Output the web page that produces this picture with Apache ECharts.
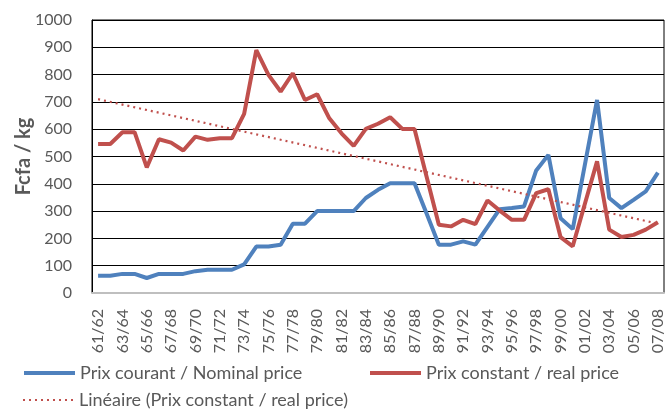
<!DOCTYPE html>
<html>
<head>
<meta charset="utf-8">
<script src="https://cdn.jsdelivr.net/npm/echarts@6/dist/echarts.min.js"></script>
<style>
  html, body { margin: 0; padding: 0; background: #fff; }
  #chart { width: 669px; height: 413px; }
</style>
</head>
<body>
<div id="chart"></div>
<script>
// campagnes 61/62 .. 07/08
var campagnes = ['61/62','62/63','63/64','64/65','65/66','66/67','67/68','68/69','69/70','70/71',
  '71/72','72/73','73/74','74/75','75/76','76/77','77/78','78/79','79/80','80/81',
  '81/82','82/83','83/84','84/85','85/86','86/87','87/88','88/89','89/90','90/91',
  '91/92','92/93','93/94','94/95','95/96','96/97','97/98','98/99','99/00','00/01',
  '01/02','02/03','03/04','04/05','05/06','06/07','07/08'];

// prix courant (Fcfa/kg)
var prixCourant = [63, 63, 70, 70, 55, 70, 70, 70, 80, 85,
  85, 85, 105, 170, 170, 177, 254, 254, 300, 300,
  300, 300, 348, 378, 402, 402, 402, 290, 177, 177,
  189, 177, 242, 307, 311, 317, 449, 506, 274, 234,
  470, 707, 348, 311, 341, 372, 441];

// prix constant (Fcfa/kg)
var prixConstant = [546, 546, 589, 589, 460, 563, 551, 522, 573, 561,
  567, 567, 656, 890, 799, 738, 805, 707, 728, 640,
  585, 539, 601, 620, 644, 601, 601, 425, 250, 244,
  268, 252, 339, 302, 268, 268, 366, 380, 205, 171,
  327, 482, 232, 205, 213, 232, 259];

// tendance lineaire, lue aux deux bouts
var tendanceDebut = 710;
var tendanceFin = 254;

var yTicks = [0, 1000, 100]; // min, max, pas

var BLEU = '#4F81BD', ROUGE = '#C0504D', GRIS = '#595959';
var nomNominal = 'Prix courant / Nominal price';
var nomReel = 'Prix constant / real price';
var nomTendance = 'Linéaire (Prix constant / real price)';

var chart = echarts.init(document.getElementById('chart'));

function legende(nom, left, top, epaisseur) {
  return {
    data: [nom], left: left, top: top,
    itemWidth: 51, itemHeight: 14, itemGap: 0, padding: 0,
    itemStyle: { opacity: 0 },
    lineStyle: { width: epaisseur },
    textStyle: { fontFamily: 'Lato', fontSize: 18, color: GRIS }
  };
}

chart.setOption({
  animation: false,
  textStyle: { fontFamily: 'Lato' },
  grid: {
    left: 92, right: 5, top: 20, bottom: 120,
    show: true, borderColor: '#000', borderWidth: 1
  },
  legend: [
    legende(nomNominal, 22, 364, 4),
    legende(nomReel, 368, 364, 4),
    legende(nomTendance, 22, 391, 2)
  ],
  xAxis: {
    type: 'category',
    data: campagnes,
    boundaryGap: true,
    axisLine: { lineStyle: { color: '#bfbfbf', width: 2 } },
    axisTick: { show: false },
    axisLabel: {
      interval: 1, rotate: 90, margin: 16,
      fontSize: 16, color: GRIS, fontFamily: 'Lato'
    },
    splitLine: { show: false }
  },
  yAxis: {
    type: 'value',
    min: yTicks[0], max: yTicks[1], interval: yTicks[2],
    name: 'Fcfa / kg',
    nameLocation: 'middle',
    nameRotate: 90,
    nameGap: 58,
    nameMoveOverlap: false,
    nameTextStyle: { fontSize: 20, fontWeight: 'bold', color: GRIS, fontFamily: 'Lato' },
    axisLine: { show: true, lineStyle: { color: '#000', width: 1 } },
    axisTick: { show: false },
    axisLabel: {
      fontSize: 16, color: GRIS, margin: 20, fontFamily: 'Lato',
      formatter: function (v) { return String(v); }
    },
    splitLine: { lineStyle: { color: '#000', width: 1 } }
  },
  series: [
    {
      name: nomNominal, type: 'line', data: prixCourant,
      symbol: 'none', color: BLEU,
      lineStyle: { color: BLEU, width: 4 }
    },
    {
      name: nomReel, type: 'line', data: prixConstant,
      symbol: 'none', color: ROUGE,
      lineStyle: { color: ROUGE, width: 4 }
    },
    {
      name: nomTendance, type: 'line', data: [],
      symbol: 'none', color: ROUGE,
      lineStyle: { color: ROUGE, width: 2, type: [2, 4] },
      markLine: {
        silent: true, symbol: 'none', label: { show: false },
        lineStyle: { color: ROUGE, width: 2.2, type: [2, 4] },
        data: [[
          { coord: [campagnes[0], tendanceDebut] },
          { coord: [campagnes[campagnes.length - 1], tendanceFin] }
        ]]
      }
    }
  ]
});
</script>
</body>
</html>
